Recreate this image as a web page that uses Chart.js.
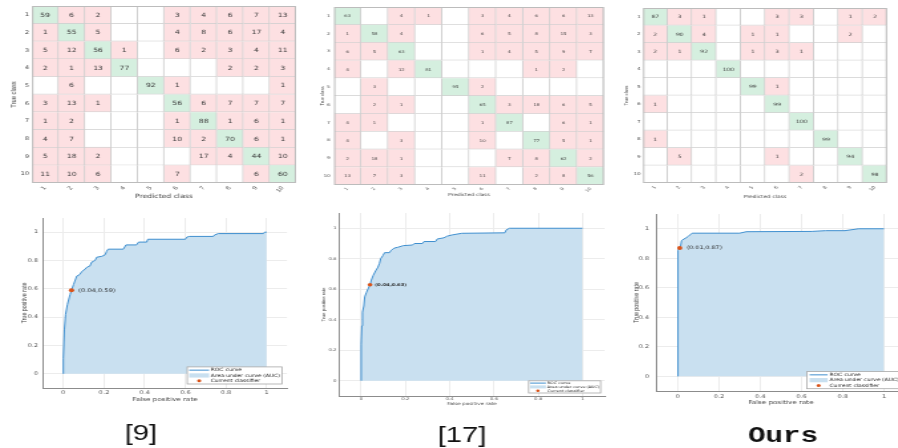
<!DOCTYPE html>
<html>
<head>
<meta charset="utf-8">
<script src="https://cdn.jsdelivr.net/npm/chart.js@4.4.1/dist/chart.umd.min.js"></script>
<style>
  html, body { margin: 0; padding: 0; background: #ffffff; }
  body { position: relative; width: 898px; height: 448px; overflow: hidden; }
  canvas { position: absolute; }
</style>
</head>
<body>
<canvas id="cm9"></canvas>
<canvas id="cm17"></canvas>
<canvas id="cmOurs"></canvas>
<canvas id="roc9"></canvas>
<canvas id="roc17"></canvas>
<canvas id="rocOurs"></canvas>
<script>
// ---------- data ----------
const classLabels = ['1', '2', '3', '4', '5', '6', '7', '8', '9', '10'];

// confusion matrices, rows = true class, columns = predicted class (0 = empty cell)
const confRef9 = [
  [59, 6, 2, 0, 0, 3, 4, 6, 7, 13],
  [1, 55, 5, 0, 0, 4, 8, 6, 17, 4],
  [5, 12, 56, 1, 0, 6, 2, 3, 4, 11],
  [2, 1, 13, 77, 0, 0, 0, 2, 2, 3],
  [0, 6, 0, 0, 92, 1, 0, 0, 0, 1],
  [3, 13, 1, 0, 0, 56, 6, 7, 7, 7],
  [1, 2, 0, 0, 0, 1, 88, 1, 6, 1],
  [4, 7, 0, 0, 0, 10, 2, 70, 6, 1],
  [5, 18, 2, 0, 0, 0, 17, 4, 44, 10],
  [11, 10, 6, 0, 0, 7, 0, 0, 6, 60]
];
const confRef17 = [
  [63, 0, 4, 1, 0, 3, 4, 6, 6, 13],
  [1, 58, 4, 0, 0, 6, 5, 8, 15, 3],
  [6, 5, 63, 0, 0, 1, 4, 5, 9, 7],
  [4, 0, 12, 81, 0, 0, 0, 1, 2, 0],
  [0, 3, 0, 0, 95, 2, 0, 0, 0, 0],
  [0, 2, 1, 0, 0, 65, 3, 18, 6, 5],
  [4, 1, 0, 0, 0, 1, 87, 0, 6, 1],
  [4, 0, 3, 0, 0, 10, 0, 77, 5, 1],
  [2, 18, 1, 0, 0, 0, 7, 8, 62, 2],
  [13, 7, 3, 0, 0, 11, 0, 2, 8, 56]
];
const confOurs = [
  [87, 3, 1, 0, 0, 3, 3, 0, 1, 2],
  [2, 90, 4, 0, 1, 1, 0, 0, 2, 0],
  [2, 1, 92, 0, 1, 3, 1, 0, 0, 0],
  [0, 0, 0, 100, 0, 0, 0, 0, 0, 0],
  [0, 0, 0, 0, 99, 1, 0, 0, 0, 0],
  [1, 0, 0, 0, 0, 99, 0, 0, 0, 0],
  [0, 0, 0, 0, 0, 0, 100, 0, 0, 0],
  [1, 0, 0, 0, 0, 0, 0, 99, 0, 0],
  [0, 5, 0, 0, 0, 1, 0, 0, 94, 0],
  [0, 0, 0, 0, 0, 0, 2, 0, 0, 98]
];

// ROC curves (false positive rate / true positive rate)
const rocRef9Fpr = [0, 0, 0.005, 0.011, 0.02, 0.033, 0.04, 0.05, 0.066, 0.08, 0.09, 0.107, 0.118, 0.13, 0.14, 0.156, 0.164, 0.19, 0.205, 0.213, 0.22, 0.295, 0.308, 0.36, 0.37, 0.41, 0.415, 0.6, 0.607, 0.62, 0.738, 0.743, 0.762, 0.984, 0.99, 1];
const rocRef9Tpr = [0, 0.11, 0.31, 0.42, 0.49, 0.56, 0.59, 0.63, 0.69, 0.70, 0.72, 0.74, 0.755, 0.76, 0.79, 0.80, 0.823, 0.83, 0.84, 0.865, 0.88, 0.88, 0.91, 0.91, 0.93, 0.93, 0.95, 0.95, 0.965, 0.97, 0.97, 0.98, 0.99, 0.99, 1, 1];
const rocRef17Fpr = [0, 0, 0.003, 0.006, 0.012, 0.016, 0.024, 0.04, 0.046, 0.054, 0.065, 0.076, 0.083, 0.088, 0.098, 0.106, 0.128, 0.135, 0.15, 0.165, 0.19, 0.232, 0.24, 0.277, 0.284, 0.336, 0.344, 0.373, 0.388, 0.41, 0.455, 0.649, 0.656, 0.67, 1];
const rocRef17Tpr = [0, 0.24, 0.36, 0.45, 0.49, 0.55, 0.58, 0.63, 0.66, 0.69, 0.72, 0.745, 0.77, 0.80, 0.82, 0.84, 0.84, 0.855, 0.87, 0.875, 0.886, 0.89, 0.90, 0.90, 0.913, 0.913, 0.93, 0.937, 0.948, 0.956, 0.967, 0.97, 0.99, 1, 1];
const rocOursFpr = [0, 0, 0.003, 0.01, 0.014, 0.019, 0.03, 0.043, 0.05, 0.07, 0.30, 0.333, 0.65, 0.716, 0.81, 0.876, 1];
const rocOursTpr = [0, 0.70, 0.854, 0.87, 0.88, 0.92, 0.93, 0.94, 0.947, 0.97, 0.97, 0.98, 0.982, 0.987, 0.987, 1, 1];

// operating point of each classifier [fpr, tpr]
const opRef9 = [0.04, 0.59];
const opRef17 = [0.04, 0.63];
const opOurs = [0.01, 0.87];

const rateTicks = [0, 0.2, 0.4, 0.6, 0.8, 1];
const captions = ['[9]', '[17]', 'Ours'];

// ---------- styles ----------
const STRETCH = 1.33;           // panels are drawn narrow and widened by CSS
const CELL_DIAG = '#d5efdf';
const CELL_OFF = '#fde0e2';
const CELL_EMPTY = '#ffffff';
const CELL_LINE = '#cfcfcf';
const FRAME = '#bcbcbc';
const ROC_LINE = '#3f8fcf';
const ROC_AREA = '#c9e0f0';
const OP_COLOR = '#d95319';
const GRID = '#ececec';
const AXIS = '#8c8c8c';
const TEXT = '#3a3a3a';
const SANS = "'DejaVu Sans', sans-serif";
const NARROW = "'Liberation Sans Narrow', 'Liberation Sans', sans-serif";

// ---------- plugins ----------
const cellText = {
  id: 'cellText',
  afterDatasetsDraw(chart, args, o) {
    const ctx = chart.ctx;
    ctx.save();
    ctx.font = `${o.size}px ${SANS}`;
    ctx.fillStyle = TEXT;
    ctx.textAlign = 'center';
    ctx.textBaseline = 'middle';
    chart.data.datasets.forEach((ds, j) => {
      chart.getDatasetMeta(j).data.forEach((el, i) => {
        const n = ds.counts[i];
        if (!n) return;
        const p = el.getCenterPoint();
        ctx.fillText(String(n), p.x, p.y + 0.3);
      });
    });
    const a = chart.chartArea;
    ctx.strokeStyle = FRAME;
    ctx.lineWidth = 1;
    ctx.strokeRect(a.left + 0.5, a.top + 0.5, a.right - a.left - 1, a.bottom - a.top - 1);
    ctx.restore();
  }
};

const opLabel = {
  id: 'opLabel',
  afterDatasetsDraw(chart, args, o) {
    const ds = chart.data.datasets[2];
    const el = chart.getDatasetMeta(2).data[0];
    if (!el) return;
    const p = ds.data[0];
    const ctx = chart.ctx;
    ctx.save();
    ctx.font = `${o.weight || 'normal'} ${o.size}px ${SANS}`;
    ctx.fillStyle = '#262626';
    ctx.textAlign = 'left';
    ctx.textBaseline = 'middle';
    ctx.fillText(`(${p.x.toFixed(2)},${p.y.toFixed(2)})`, el.x + o.offset, el.y + 0.3);
    ctx.restore();
  }
};

const rocLegend = {
  id: 'rocLegend',
  afterDatasetsDraw(chart, args, o) {
    const ctx = chart.ctx, a = chart.chartArea;
    const ds = chart.data.datasets;
    const rows = [ds[1], ds[0], ds[2]];
    ctx.save();
    ctx.font = `${o.size}px ${SANS}`;
    const tw = Math.max(...rows.map(d => ctx.measureText(d.label).width));
    const w = o.padX + o.sampleW + o.gap + tw + o.padX;
    const h = o.padY * 2 + o.rowH * rows.length;
    const x0 = a.right - o.marginR - w, y0 = a.bottom - o.marginB - h;
    ctx.fillStyle = '#ffffff';
    ctx.fillRect(x0, y0, w, h);
    ctx.strokeStyle = '#a8a8a8';
    ctx.lineWidth = 0.8;
    ctx.strokeRect(x0, y0, w, h);
    rows.forEach((d, k) => {
      const cy = y0 + o.padY + o.rowH * (k + 0.5);
      const sx = x0 + o.padX;
      if (k === 0) {
        ctx.strokeStyle = d.borderColor;
        ctx.lineWidth = 1;
        ctx.beginPath(); ctx.moveTo(sx, cy); ctx.lineTo(sx + o.sampleW, cy); ctx.stroke();
      } else if (k === 1) {
        ctx.fillStyle = d.backgroundColor;
        ctx.fillRect(sx, cy - o.rowH * 0.4, o.sampleW, o.rowH * 0.8);
      } else {
        ctx.fillStyle = d.pointBackgroundColor;
        ctx.beginPath(); ctx.arc(sx + o.sampleW / 2, cy, o.dot, 0, Math.PI * 2); ctx.fill();
      }
      ctx.fillStyle = '#222222';
      ctx.textAlign = 'left';
      ctx.textBaseline = 'middle';
      ctx.fillText(d.label, sx + o.sampleW + o.gap, cy + 0.2);
    });
    ctx.restore();
  }
};

const caption = {
  id: 'caption',
  afterDraw(chart, args, o) {
    const ctx = chart.ctx;
    ctx.save();
    ctx.font = o.font;
    ctx.fillStyle = '#111111';
    ctx.textAlign = 'center';
    ctx.textBaseline = 'alphabetic';
    ctx.fillText(o.text, o.x, o.y);
    ctx.restore();
  }
};

// ---------- layout helpers ----------
function placeCanvas(id, page) {
  const cv = document.getElementById(id);
  const cw = Math.round(page.w / STRETCH);
  cv.width = cw;
  cv.height = page.h;
  cv.style.left = page.left + 'px';
  cv.style.top = page.top + 'px';
  cv.style.width = page.w + 'px';
  cv.style.height = page.h + 'px';
  return { cv, sx: page.w / cw };
}

function frame(page, area, sx, yTitleX, yTitleSize, xH) {
  const padL = (yTitleX - page.left) / sx - yTitleSize * 0.6;
  return {
    padding: {
      left: padL,
      right: (page.left + page.w - area.R) / sx,
      top: area.T - page.top,
      bottom: page.h - (area.B - page.top) - xH
    },
    yW: (area.L - page.left) / sx - padL,
    xH
  };
}

// ---------- confusion matrix panel ----------
function confusionPanel(id, matrix, st) {
  const { cv, sx } = placeCanvas(id, st.page);
  const f = frame(st.page, st.area, sx, st.yTitleX, st.yTitleSize, st.xH);
  const datasets = classLabels.map((c, j) => ({
    label: c,
    data: matrix.map(() => 1),
    counts: matrix.map(row => row[j]),
    backgroundColor: matrix.map((row, i) => row[j] === 0 ? CELL_EMPTY : (i === j ? CELL_DIAG : CELL_OFF)),
    borderColor: CELL_LINE,
    borderWidth: { top: 0, left: 0, right: 1, bottom: 1 },
    borderSkipped: false,
    barPercentage: 1,
    categoryPercentage: 1
  }));
  new Chart(cv, {
    type: 'bar',
    data: { labels: classLabels, datasets },
    options: {
      indexAxis: 'y',
      responsive: false,
      animation: false,
      events: [],
      layout: { padding: f.padding },
      plugins: {
        legend: { display: false },
        tooltip: { enabled: false },
        cellText: { size: st.valueSize }
      },
      scales: {
        x: {
          type: 'linear', stacked: true, min: 0, max: classLabels.length,
          grid: { display: false, drawTicks: false }, border: { display: false },
          afterBuildTicks: s => { s.ticks = classLabels.map((c, k) => ({ value: k + 0.5 })); },
          afterFit: s => { s.height = f.xH; },
          ticks: {
            autoSkip: false, minRotation: 52, maxRotation: 52, padding: st.xTickPad,
            font: { family: SANS, size: st.tickSize }, color: '#555555',
            callback: (v, i) => classLabels[i]
          },
          title: { display: true, text: 'Predicted class', padding: 0, color: '#444444', font: { family: SANS, size: st.xTitleSize } }
        },
        y: {
          type: 'category', stacked: true,
          grid: { display: false, drawTicks: false }, border: { display: false },
          afterFit: s => { s.width = f.yW; },
          ticks: { padding: st.yTickGap / sx, font: { family: SANS, size: st.tickSize }, color: '#444444' },
          title: { display: true, text: 'True class', padding: 0, color: '#444444', font: { family: NARROW, size: st.yTitleSize } }
        }
      }
    },
    plugins: [cellText]
  });
}

// ---------- ROC panel ----------
function rocPanel(id, fpr, tpr, op, st) {
  const { cv, sx } = placeCanvas(id, st.page);
  const f = frame(st.page, st.area, sx, st.yTitleX, st.yTitleSize, st.xH);
  const curve = fpr.map((x, i) => ({ x, y: tpr[i] }));
  const fmt = v => String(+v.toFixed(1));
  const tickFont = { family: SANS, size: st.tickSize };
  new Chart(cv, {
    type: 'line',
    data: {
      datasets: [
        { label: 'Area under curve (AUC)', data: curve, borderWidth: 0, borderColor: 'rgba(0,0,0,0)',
          backgroundColor: ROC_AREA, pointRadius: 0, fill: { value: 0 }, order: 3 },
        { label: 'ROC curve', data: curve, borderColor: ROC_LINE, borderWidth: 1,
          pointRadius: 0, fill: false, order: 2 },
        { label: 'Current classifier', data: [{ x: op[0], y: op[1] }], showLine: false,
          pointRadius: st.dot, pointBackgroundColor: OP_COLOR, pointBorderColor: OP_COLOR, pointBorderWidth: 0, order: 1 }
      ]
    },
    options: {
      responsive: false,
      animation: false,
      events: [],
      layout: { padding: f.padding },
      plugins: {
        legend: { display: false },
        tooltip: { enabled: false },
        opLabel: { size: st.opSize, weight: st.opWeight, offset: st.opOffset / sx },
        rocLegend: st.legend,
        caption: { text: st.caption, x: (st.capX - st.page.left) / sx, y: st.capY - st.page.top, font: st.capFont }
      },
      scales: {
        x: {
          type: 'linear', min: -0.1, max: 1.1,
          afterBuildTicks: s => { s.ticks = rateTicks.map(v => ({ value: v })); },
          afterFit: s => { s.height = f.xH; },
          grid: { color: GRID, drawTicks: false },
          border: { color: AXIS },
          ticks: { padding: st.xTickPad, font: tickFont, color: '#555555', callback: v => fmt(v) },
          title: { display: true, text: 'False positive rate', padding: 0, color: '#444444', font: { family: SANS, size: st.xTitleSize } }
        },
        y: {
          type: 'linear', min: -0.1, max: 1.1,
          afterBuildTicks: s => { s.ticks = rateTicks.map(v => ({ value: v })); },
          afterFit: s => { s.width = f.yW; },
          grid: { color: GRID, drawTicks: false },
          border: { color: AXIS },
          ticks: { padding: st.yTickGap / sx, font: tickFont, color: '#555555', callback: v => fmt(v) },
          title: { display: true, text: 'True positive rate', padding: 0, color: '#444444', font: { family: NARROW, size: st.yTitleSize } }
        }
      }
    },
    plugins: [opLabel, rocLegend, caption]
  });
}

// ---------- panels ----------
confusionPanel('cm9', confRef9, {
  page: { left: 0, top: 0, w: 300, h: 205 }, area: { L: 32, R: 296, T: 6, B: 183 },
  yTitleX: 14, yTitleSize: 5.8, xTitleSize: 5.8, tickSize: 5, valueSize: 5.8,
  xH: 16.6, xTickPad: 2, yTickGap: 3
});
confusionPanel('cm17', confRef17, {
  page: { left: 300, top: 0, w: 310, h: 205 }, area: { L: 334, R: 604, T: 7, B: 185 },
  yTitleX: 322, yTitleSize: 4.2, xTitleSize: 4.2, tickSize: 3.8, valueSize: 3.7,
  xH: 12, xTickPad: 1.5, yTickGap: 4
});
confusionPanel('cmOurs', confOurs, {
  page: { left: 600, top: 0, w: 298, h: 205 }, area: { L: 643, R: 887, T: 8, B: 183 },
  yTitleX: 626, yTitleSize: 4.4, xTitleSize: 4.3, tickSize: 4, valueSize: 4.5,
  xH: 16.6, xTickPad: 2, yTickGap: 2.5
});

rocPanel('roc9', rocRef9Fpr, rocRef9Tpr, opRef9, {
  page: { left: 0, top: 205, w: 300, h: 243 }, area: { L: 43, R: 287, T: 218, B: 388 },
  yTitleX: 24, yTitleSize: 5.3, xTitleSize: 5.4, tickSize: 5, xH: 15, xTickPad: 2, yTickGap: 5,
  dot: 2, opSize: 5, opWeight: 'normal', opOffset: 7,
  legend: { size: 4.4, rowH: 5.3, sampleW: 15, gap: 1.2, padX: 1.5, padY: 0.6, marginR: 3.8, marginB: 4, dot: 1.5 },
  caption: captions[0], capX: 141, capY: 440, capFont: "22px 'Liberation Sans', Arial, sans-serif"
});
rocPanel('roc17', rocRef17Fpr, rocRef17Tpr, opRef17, {
  page: { left: 300, top: 205, w: 310, h: 243 }, area: { L: 339, R: 607, T: 213, B: 396 },
  yTitleX: 324, yTitleSize: 4.4, xTitleSize: 4.1, tickSize: 3.8, xH: 10.5, xTickPad: 0.8, yTickGap: 2.5,
  dot: 1.8, opSize: 3.8, opWeight: 'bold', opOffset: 5,
  legend: { size: 3.3, rowH: 3.8, sampleW: 12, gap: 1, padX: 1, padY: 0.4, marginR: 3, marginB: 3, dot: 1.3 },
  caption: captions[1], capX: 462, capY: 442, capFont: "22px 'Liberation Sans', Arial, sans-serif"
});
rocPanel('rocOurs', rocOursFpr, rocOursTpr, opOurs, {
  page: { left: 600, top: 205, w: 310, h: 243 }, area: { L: 657, R: 907, T: 212, B: 391 },
  yTitleX: 637, yTitleSize: 5.3, xTitleSize: 5.4, tickSize: 5, xH: 15, xTickPad: 2.5, yTickGap: 8,
  dot: 2, opSize: 4.8, opWeight: 'normal', opOffset: 7,
  legend: { size: 4.4, rowH: 5.3, sampleW: 13.5, gap: 1.5, padX: 2, padY: 0.6, marginR: 2.3, marginB: 2.3, dot: 1.5 },
  caption: captions[2], capX: 783, capY: 442, capFont: "bold 22px 'Liberation Mono', 'Courier New', monospace"
});
</script>
</body>
</html>
